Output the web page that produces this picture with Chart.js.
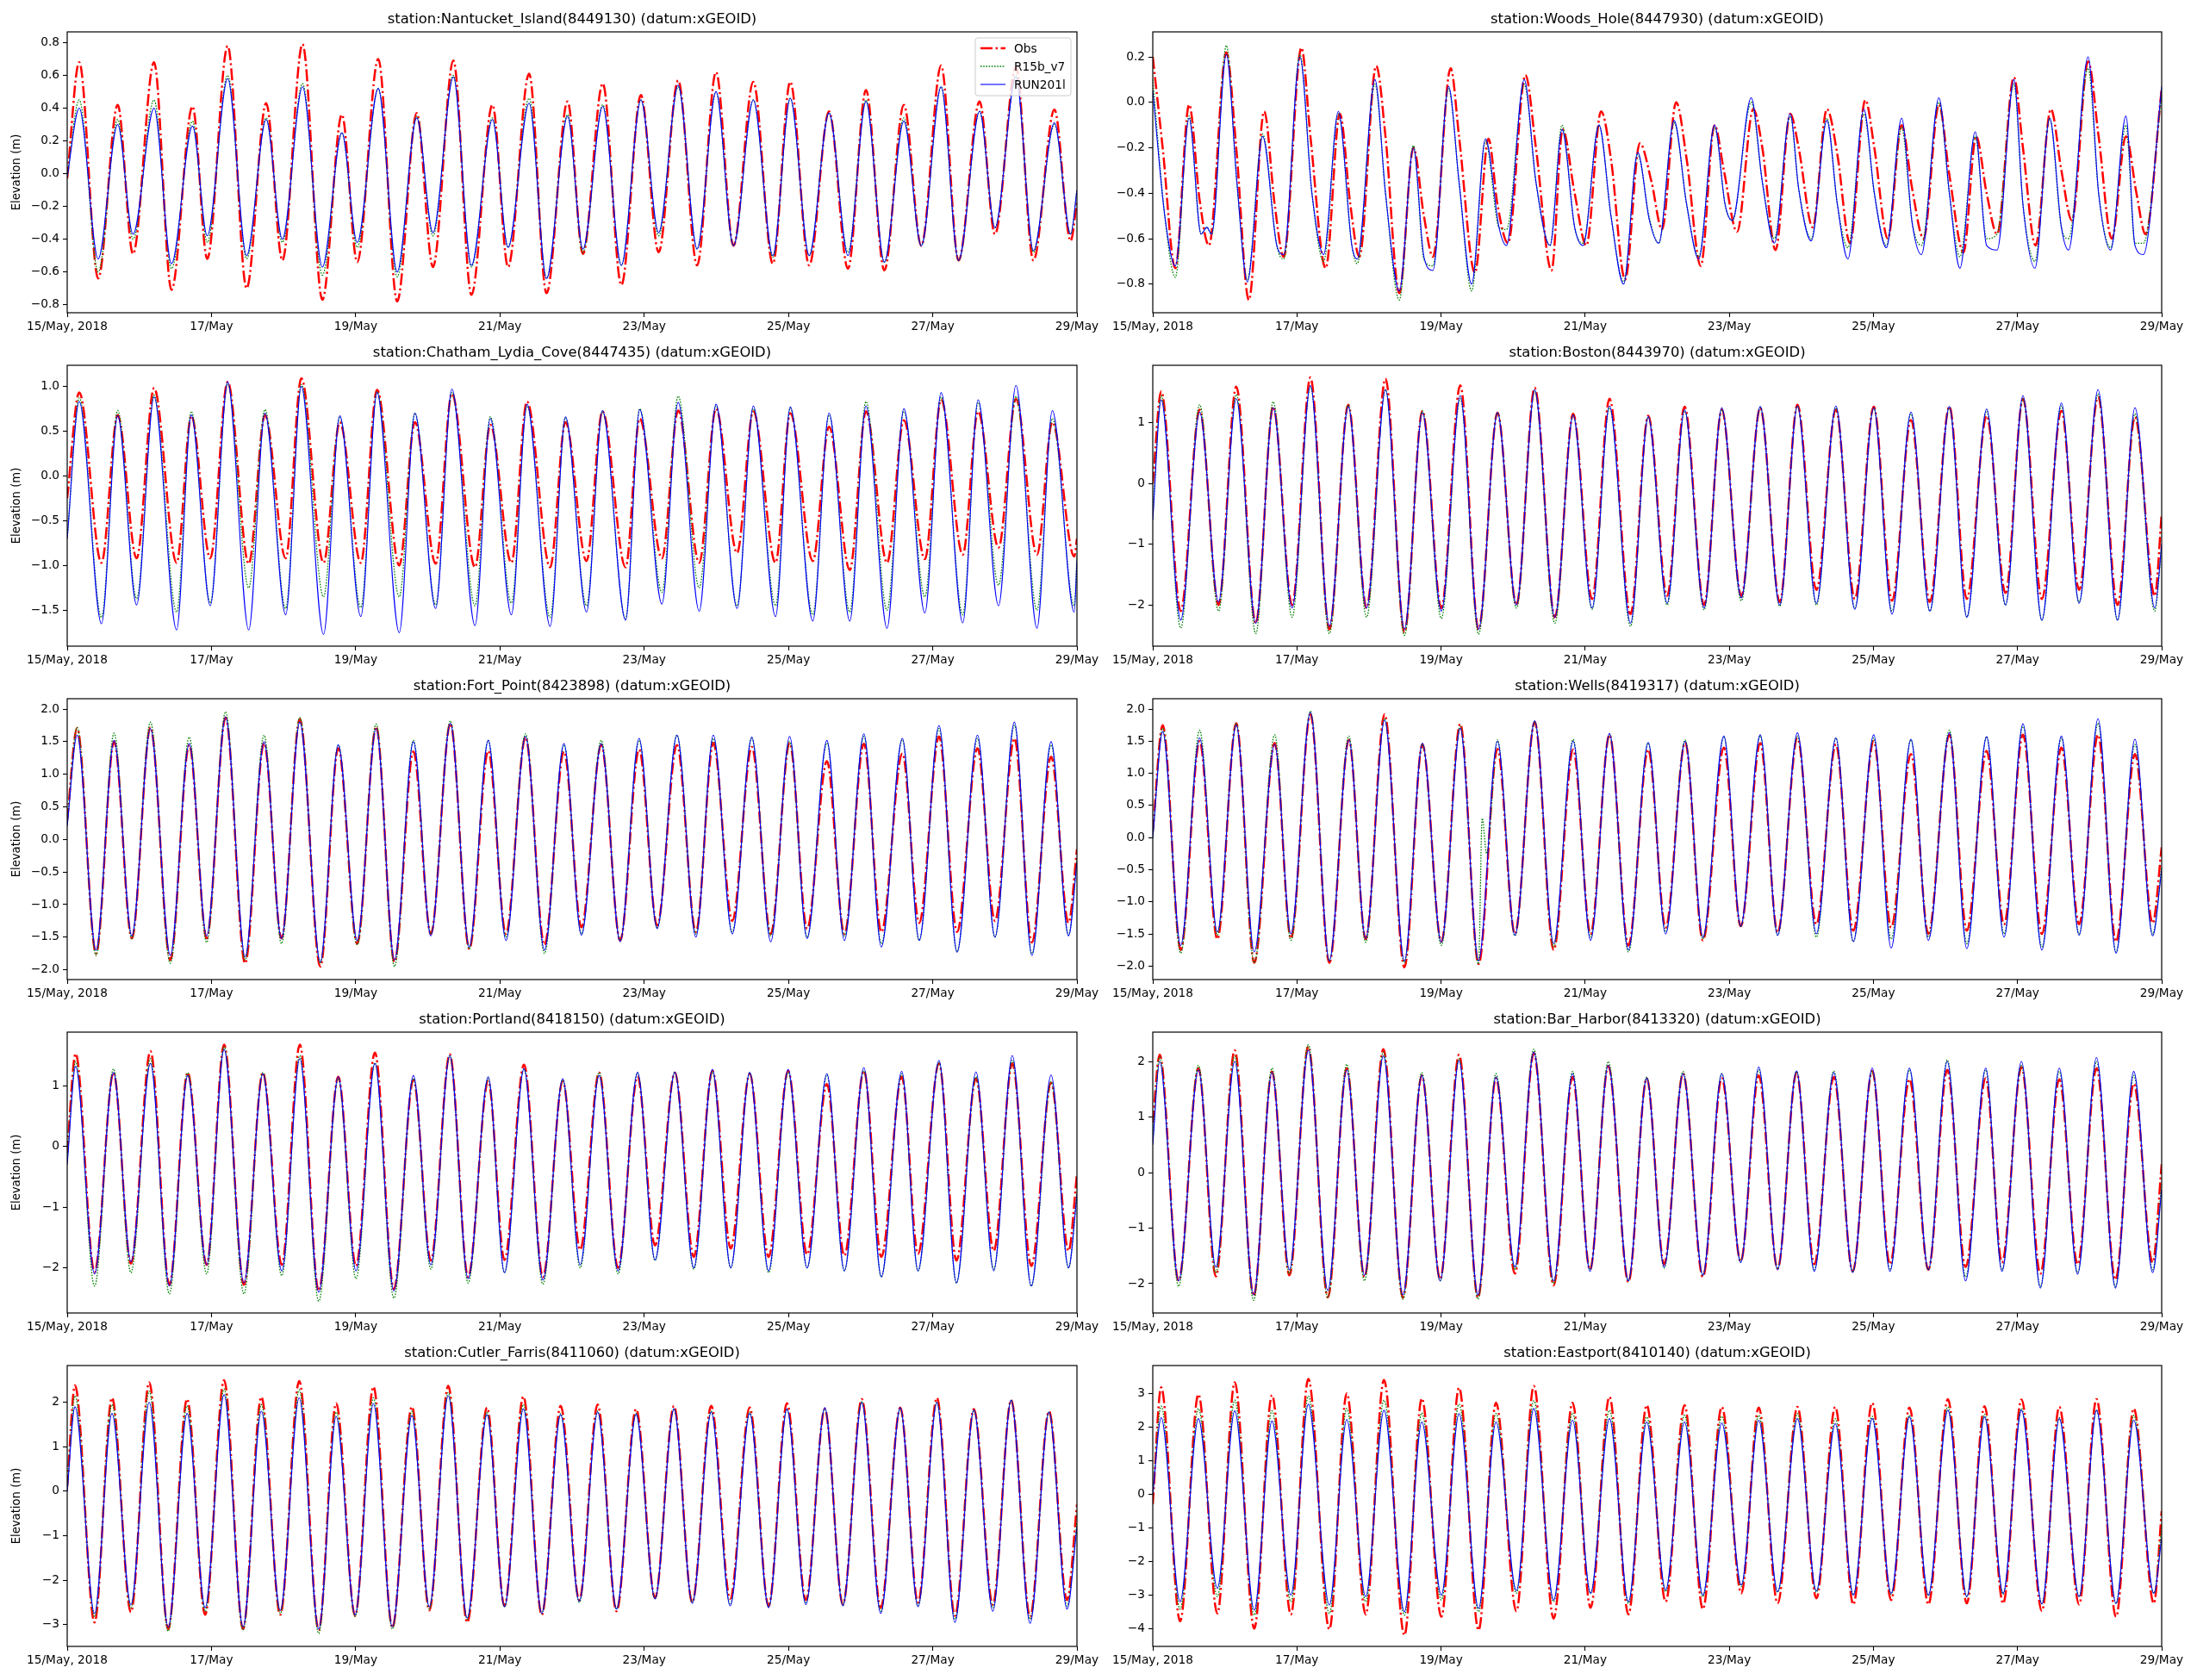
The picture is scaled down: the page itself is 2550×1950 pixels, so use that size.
<!DOCTYPE html>
<html><head><meta charset="utf-8">
<script src="https://cdn.jsdelivr.net/npm/chart.js@4.4.1/dist/chart.umd.min.js"></script>
<style>
html,body{margin:0;padding:0;background:#fff;}
body{width:2550px;height:1950px;position:relative;overflow:hidden;}
canvas{position:absolute;}
</style></head><body>
<script>
// ---------- shared axis data ----------
const edgeT = [0, 336];
const dayLabels = ["15/May, 2018","17/May","19/May","21/May","23/May","25/May","27/May","29/May"];
const seriesNames = ["Obs","R15b_v7","RUN201l"];

// ---------- Nantucket_Island ----------
const nanHiT = [4.0,16.8,28.9,41.7,53.4,66.2,78.3,91.4,103.5,116.3,128.5,141.5,153.7,166.5,178.2,190.9,203.3,215.9,228.3,240.6,253.5,265.8,278.4,290.8,303.6,315.7,328.5];
const nanLoT = [10.3,21.9,34.7,46.6,59.7,71.6,84.9,96.5,109.8,121.7,134.5,146.7,159.5,171.6,184.4,196.8,209.6,221.7,234.8,246.9,259.8,271.9,284.2,296.6,308.7,321.5,333.9];
const nanObsHi = [0.68,0.42,0.68,0.41,0.78,0.43,0.79,0.36,0.70,0.37,0.69,0.42,0.61,0.44,0.55,0.48,0.57,0.62,0.56,0.56,0.38,0.51,0.42,0.66,0.44,0.65,0.39];
const nanObsLo = [-0.64,-0.49,-0.71,-0.52,-0.70,-0.53,-0.77,-0.54,-0.78,-0.57,-0.74,-0.57,-0.73,-0.49,-0.68,-0.48,-0.56,-0.44,-0.55,-0.56,-0.58,-0.59,-0.44,-0.53,-0.37,-0.53,-0.41];
const nanObsEdge = [-0.03,-0.17];
const nanR15Hi = [0.45,0.33,0.45,0.32,0.60,0.34,0.55,0.25,0.52,0.35,0.60,0.34,0.46,0.36,0.42,0.45,0.53,0.50,0.45,0.46,0.37,0.45,0.34,0.53,0.38,0.60,0.30];
const nanR15Lo = [-0.60,-0.40,-0.58,-0.42,-0.52,-0.42,-0.62,-0.45,-0.63,-0.38,-0.57,-0.45,-0.64,-0.48,-0.56,-0.38,-0.46,-0.44,-0.51,-0.50,-0.48,-0.54,-0.44,-0.53,-0.33,-0.48,-0.37];
const nanR15Edge = [-0.02,-0.10];
const nanRunHi = [0.40,0.30,0.40,0.29,0.58,0.33,0.53,0.25,0.52,0.34,0.59,0.33,0.43,0.35,0.41,0.45,0.54,0.50,0.45,0.46,0.37,0.44,0.32,0.53,0.38,0.59,0.31];
const nanRunLo = [-0.52,-0.37,-0.55,-0.38,-0.50,-0.40,-0.57,-0.42,-0.60,-0.36,-0.56,-0.45,-0.64,-0.46,-0.56,-0.36,-0.46,-0.44,-0.50,-0.50,-0.50,-0.54,-0.44,-0.53,-0.33,-0.47,-0.37];
const nanRunEdge = [-0.02,-0.10];

// ---------- Woods_Hole ----------
const whObsT = [0,3.3,7.5,12.1,15.6,18.7,24.5,27.8,32.0,37.1,
 40.6,43.6,49.5,52.5,57.6,62.3,65.8,68.8,74.4,77.5,
 82.1,86.8,90.3,93.3,99.2,102.0,107.3,111.8,114.8,118.3,
 124.1,127.6,132.8,136.5,140.5,144.4,149.3,152.6,157.3,162.2,
 166.1,169.6,174.3,177.8,182.5,187.1,190.2,194.6,200.0,203.0,
 207.4,212.3,215.1,219.8,224.5,228.0,232.2,237.3,240.3,244.8,
 249.4,252.9,256.7,261.8,265.3,270.0,274.2,277.7,281.2,286.8,
 289.8,294.0,299.1,302.6,306.1,311.5,315.0,319.4,324.1,327.6,
 330.6,336.0];
const whObs = [0.20,-0.20,-0.73,-0.01,-0.43,-0.63,0.22,-0.20,-0.87,-0.04,
 -0.45,-0.68,0.24,-0.15,-0.73,-0.05,-0.45,-0.68,0.16,-0.15,
 -0.84,-0.20,-0.50,-0.68,0.15,-0.15,-0.75,-0.16,-0.45,-0.62,
 0.12,-0.20,-0.74,-0.12,-0.40,-0.63,-0.04,-0.25,-0.78,-0.18,
 -0.35,-0.56,0.00,-0.25,-0.72,-0.10,-0.30,-0.57,-0.03,-0.20,
 -0.65,-0.05,-0.20,-0.55,-0.03,-0.23,-0.62,0.01,-0.20,-0.60,
 -0.10,-0.38,-0.60,-0.01,-0.32,-0.66,-0.15,-0.40,-0.58,0.11,
 -0.20,-0.63,-0.03,-0.30,-0.52,0.18,-0.15,-0.60,-0.15,-0.40,
 -0.58,0.06];
const whModT = [0,4.0,7.5,12.1,16.1,18.0,19.6,24.5,28.0,31.5,
 36.6,41.3,43.6,49.0,53.0,56.9,61.8,66.3,68.1,74.0,
 77.5,82.1,86.8,90.3,93.3,98.5,102.0,106.2,110.8,115.3,
 117.8,123.7,127.6,132.3,136.3,140.5,143.3,148.6,152.6,156.8,
 161.5,165.4,168.5,173.6,177.8,181.8,187.1,190.6,193.0,199.3,
 203.0,207.0,212.3,215.1,219.3,224.5,228.0,231.5,236.8,240.3,
 244.3,249.4,252.9,256.0,261.8,265.3,268.8,273.9,277.7,281.2,
 286.8,289.8,293.8,298.7,302.6,305.0,311.5,315.0,319.0,324.1,
 327.1,329.9,336.0];
const whR15 = [0.10,-0.50,-0.77,-0.06,-0.58,-0.55,-0.58,0.25,-0.35,-0.78,
 -0.14,-0.63,-0.69,0.21,-0.40,-0.70,-0.05,-0.63,-0.71,0.08,
 -0.40,-0.87,-0.19,-0.69,-0.72,0.06,-0.35,-0.83,-0.17,-0.55,
 -0.56,0.08,-0.35,-0.63,-0.10,-0.55,-0.62,-0.10,-0.50,-0.79,
 -0.23,-0.51,-0.62,-0.09,-0.45,-0.68,-0.11,-0.45,-0.52,0.00,
 -0.35,-0.60,-0.06,-0.38,-0.60,-0.07,-0.45,-0.64,-0.05,-0.40,
 -0.63,-0.11,-0.53,-0.63,0.00,-0.40,-0.68,-0.15,-0.60,-0.58,
 0.08,-0.45,-0.70,-0.07,-0.55,-0.60,0.15,-0.40,-0.64,-0.10,
 -0.62,-0.62,0.03];
const whRun = [0.05,-0.50,-0.72,-0.07,-0.58,-0.55,-0.58,0.21,-0.35,-0.79,
 -0.15,-0.63,-0.67,0.20,-0.40,-0.67,-0.04,-0.63,-0.69,0.10,
 -0.40,-0.83,-0.20,-0.68,-0.74,0.07,-0.35,-0.80,-0.16,-0.55,
 -0.63,0.10,-0.35,-0.63,-0.12,-0.55,-0.63,-0.10,-0.50,-0.80,
 -0.22,-0.52,-0.62,-0.08,-0.45,-0.69,-0.10,-0.45,-0.52,0.02,
 -0.35,-0.62,-0.05,-0.38,-0.61,-0.08,-0.45,-0.69,-0.03,-0.40,
 -0.64,-0.07,-0.53,-0.67,0.02,-0.40,-0.73,-0.13,-0.63,-0.65,
 0.10,-0.45,-0.73,-0.07,-0.55,-0.65,0.20,-0.40,-0.65,-0.06,
 -0.63,-0.67,0.07];

// ---------- Chatham_Lydia_Cove ----------
const chaHiT = [4.0,16.8,28.9,41.3,53.4,65.8,77.9,90.7,103.1,115.7,128.0,140.8,153.0,165.8,178.1,190.5,203.3,215.9,228.3,240.6,253.5,265.8,278.4,290.8,303.1,315.7,327.8];
const chaLoT = [11.4,23.1,36.4,47.6,60.4,72.7,85.3,97.7,110.5,122.6,135.7,147.8,160.7,172.8,185.8,197.9,210.3,222.9,235.7,248.1,260.4,272.8,285.4,298.0,309.9,322.7,335.1];
const chaObsHi = [0.93,0.68,0.98,0.67,1.05,0.68,1.09,0.60,0.96,0.60,0.92,0.57,0.83,0.60,0.72,0.64,0.73,0.75,0.72,0.70,0.55,0.72,0.62,0.85,0.72,0.86,0.60];
const chaObsLo = [-0.97,-0.92,-0.97,-0.92,-0.98,-0.92,-0.97,-0.97,-1.00,-0.98,-1.02,-0.97,-1.02,-0.95,-1.02,-0.92,-0.97,-0.86,-0.97,-0.95,-1.05,-0.97,-0.93,-0.88,-0.80,-0.88,-0.90];
const chaObsEdge = [-0.25,-0.70];
const chaR15Hi = [0.87,0.73,0.90,0.72,1.03,0.74,1.02,0.66,0.94,0.70,0.93,0.66,0.78,0.65,0.72,0.75,0.89,0.78,0.75,0.76,0.68,0.83,0.72,0.88,0.82,0.89,0.64];
const chaR15Lo = [-1.58,-1.37,-1.52,-1.42,-1.25,-1.48,-1.35,-1.47,-1.35,-1.44,-1.45,-1.42,-1.58,-1.45,-1.60,-1.30,-1.25,-1.45,-1.45,-1.55,-1.52,-1.50,-1.35,-1.55,-1.22,-1.50,-1.45];
const chaR15Edge = [-0.70,-0.90];
const chaRunHi = [0.83,0.67,0.88,0.68,1.05,0.70,1.00,0.67,0.93,0.70,0.97,0.64,0.80,0.66,0.73,0.74,0.82,0.80,0.78,0.77,0.70,0.78,0.75,0.93,0.85,1.01,0.73];
const chaRunLo = [-1.65,-1.44,-1.72,-1.45,-1.72,-1.55,-1.77,-1.57,-1.75,-1.48,-1.67,-1.55,-1.68,-1.52,-1.61,-1.43,-1.51,-1.48,-1.57,-1.62,-1.62,-1.70,-1.53,-1.64,-1.45,-1.70,-1.52];
const chaRunEdge = [-0.70,-0.95];

// ---------- Boston ----------
const bosHiT = [2.8,15.6,27.8,40.1,52.5,65.1,77.5,89.8,102.4,114.8,127.2,140.0,152.1,165.0,177.1,189.5,202.3,214.7,227.5,240.1,252.5,265.3,277.7,289.8,302.6,314.8,327.1];
const bosLoT = [9.3,21.9,34.3,46.4,58.8,71.2,83.8,96.1,108.5,121.1,133.9,146.3,159.1,171.3,183.6,196.0,208.8,221.0,233.8,246.2,258.8,271.1,284.0,296.1,308.5,321.3,333.7];
const bosObsHi = [1.52,1.22,1.60,1.27,1.75,1.30,1.73,1.20,1.62,1.17,1.58,1.15,1.40,1.12,1.27,1.22,1.25,1.30,1.22,1.27,1.05,1.27,1.12,1.40,1.20,1.43,1.10];
const bosObsLo = [-2.10,-2.00,-2.30,-2.00,-2.40,-2.05,-2.45,-2.05,-2.40,-2.00,-2.20,-1.90,-2.15,-1.85,-2.00,-1.85,-1.95,-1.75,-1.90,-1.93,-1.95,-1.90,-1.80,-1.90,-1.75,-2.00,-1.85];
const bosObsEdge = [0.0,-0.50];
const bosR15Hi = [1.45,1.30,1.47,1.35,1.60,1.30,1.55,1.20,1.40,1.17,1.52,1.13,1.25,1.10,1.20,1.22,1.25,1.28,1.25,1.25,1.15,1.25,1.20,1.40,1.28,1.48,1.15];
const bosR15Lo = [-2.38,-2.10,-2.47,-2.20,-2.47,-2.20,-2.50,-2.22,-2.48,-2.05,-2.30,-2.07,-2.35,-2.00,-2.08,-1.93,-2.02,-2.00,-2.05,-2.10,-2.10,-2.20,-2.00,-2.25,-1.95,-2.25,-2.10];
const bosR15Edge = [-0.50,-1.00];
const bosRunHi = [1.38,1.18,1.40,1.25,1.62,1.27,1.55,1.17,1.45,1.17,1.55,1.13,1.28,1.10,1.22,1.25,1.27,1.28,1.28,1.25,1.18,1.27,1.23,1.45,1.33,1.55,1.25];
const bosRunLo = [-2.25,-1.95,-2.30,-2.05,-2.35,-2.05,-2.40,-2.10,-2.40,-2.00,-2.20,-2.05,-2.30,-1.97,-2.05,-1.88,-2.00,-1.97,-2.07,-2.15,-2.10,-2.20,-2.00,-2.25,-1.97,-2.25,-2.05];
const bosRunEdge = [-0.60,-1.00];

// ---------- Fort_Point ----------
const fpHiT = [3.3,15.6,27.7,40.6,52.7,65.5,77.4,90.2,102.8,115.2,127.5,140.1,152.5,165.3,177.7,190.3,202.9,215.0,227.8,240.4,252.8,265.1,277.9,290.1,302.9,315.2,327.4];
const fpLoT = [9.6,21.5,34.3,46.4,59.2,71.3,84.2,96.5,108.9,121.0,133.8,146.0,158.8,171.1,184.0,196.3,209.2,221.3,234.1,246.2,258.6,270.9,283.5,296.1,308.7,321.0,333.2];
const fpObsHi = [1.71,1.50,1.72,1.45,1.87,1.48,1.85,1.40,1.73,1.35,1.78,1.36,1.57,1.35,1.45,1.38,1.45,1.48,1.42,1.48,1.20,1.47,1.32,1.58,1.40,1.55,1.27];
const fpObsLo = [-1.75,-1.52,-1.85,-1.52,-1.90,-1.52,-1.95,-1.60,-1.88,-1.45,-1.68,-1.45,-1.62,-1.35,-1.55,-1.32,-1.42,-1.25,-1.45,-1.37,-1.45,-1.42,-1.28,-1.42,-1.25,-1.58,-1.28];
const fpObsEdge = [0.30,-0.15];
const fpR15Hi = [1.72,1.63,1.80,1.57,1.96,1.60,1.87,1.45,1.77,1.52,1.82,1.52,1.62,1.45,1.52,1.52,1.60,1.55,1.55,1.50,1.48,1.58,1.53,1.70,1.55,1.75,1.45];
const fpR15Lo = [-1.78,-1.52,-1.90,-1.58,-1.85,-1.60,-1.90,-1.62,-1.95,-1.45,-1.68,-1.50,-1.75,-1.45,-1.55,-1.35,-1.45,-1.42,-1.48,-1.50,-1.48,-1.60,-1.55,-1.72,-1.50,-1.75,-1.47];
const fpR15Edge = [0.25,-0.30];
const fpRunHi = [1.60,1.52,1.70,1.47,1.88,1.50,1.80,1.45,1.70,1.50,1.78,1.52,1.58,1.47,1.47,1.55,1.60,1.60,1.57,1.58,1.52,1.62,1.55,1.75,1.60,1.80,1.50];
const fpRunLo = [-1.70,-1.48,-1.78,-1.48,-1.80,-1.52,-1.88,-1.55,-1.85,-1.48,-1.65,-1.55,-1.70,-1.47,-1.57,-1.37,-1.50,-1.45,-1.57,-1.52,-1.55,-1.65,-1.55,-1.73,-1.50,-1.78,-1.48];
const fpRunEdge = [0.20,-0.35];

// ---------- Wells ----------
const weHiT = [3.3,15.6,27.8,40.6,52.5,65.3,77.2,89.8,102.4,114.8,127.2,140.0,152.1,165.0,177.3,190.2,202.3,214.7,227.5,240.1,252.5,265.3,277.7,289.8,302.6,314.8,327.1];
const weLoT = [9.3,21.5,33.8,46.0,58.8,70.9,83.8,96.1,108.5,120.6,133.5,145.8,158.4,170.8,183.2,195.8,208.1,221.0,233.3,245.9,258.3,271.1,283.5,296.1,308.5,320.8,333.0];
const weObsHi = [1.75,1.50,1.78,1.47,1.92,1.52,1.92,1.45,1.77,1.38,1.80,1.37,1.60,1.37,1.48,1.40,1.47,1.55,1.45,1.50,1.30,1.60,1.35,1.60,1.40,1.60,1.30];
const weObsLo = [-1.75,-1.58,-1.95,-1.57,-1.95,-1.58,-2.02,-1.62,-1.97,-1.50,-1.75,-1.50,-1.68,-1.40,-1.60,-1.38,-1.48,-1.35,-1.45,-1.40,-1.50,-1.45,-1.35,-1.50,-1.35,-1.62,-1.33];
const weObsEdge = [0.10,-0.15];
const weR15Hi = [1.70,1.67,1.78,1.60,1.97,1.58,1.85,1.45,1.73,1.52,1.80,1.53,1.60,1.47,1.52,1.57,1.58,1.58,1.55,1.55,1.52,1.67,1.57,1.73,1.55,1.78,1.45];
const weR15Lo = [-1.80,-1.52,-1.95,-1.60,-1.92,-1.63,-1.95,-1.68,-1.97,-1.53,-1.70,-1.55,-1.78,-1.47,-1.58,-1.38,-1.52,-1.55,-1.62,-1.58,-1.55,-1.65,-1.50,-1.70,-1.50,-1.78,-1.50];
const weR15Edge = [0.0,-0.45];
const weR15SpikeT = [109.7,111.2];
const weR15Spike = [0.30,-0.25];
const weRunHi = [1.65,1.55,1.75,1.45,1.95,1.52,1.83,1.47,1.70,1.50,1.82,1.50,1.62,1.48,1.50,1.58,1.60,1.63,1.55,1.60,1.53,1.63,1.57,1.77,1.58,1.85,1.53];
const weRunLo = [-1.68,-1.47,-1.78,-1.50,-1.92,-1.57,-1.92,-1.63,-1.92,-1.52,-1.65,-1.60,-1.75,-1.50,-1.55,-1.38,-1.52,-1.50,-1.62,-1.72,-1.60,-1.73,-1.55,-1.75,-1.52,-1.80,-1.53];
const weRunEdge = [0.0,-0.50];

// ---------- Portland ----------
const poHiT = [2.8,15.4,27.7,40.1,52.2,65.1,77.4,90.2,102.4,115.2,127.3,140.1,152.0,164.9,177.0,189.8,202.2,214.7,227.1,239.9,252.8,265.1,277.7,290.1,302.4,314.5,327.4];
const poLoT = [9.1,21.2,34.0,46.4,58.8,71.4,83.7,96.1,108.7,121.0,133.4,145.5,158.3,170.7,183.3,195.6,208.5,220.8,233.4,246.2,258.6,270.9,283.1,295.9,308.3,320.8,333.2];
const poObsHi = [1.53,1.22,1.57,1.22,1.68,1.22,1.68,1.15,1.55,1.10,1.52,1.08,1.35,1.08,1.22,1.15,1.22,1.25,1.20,1.25,1.03,1.25,1.15,1.37,1.12,1.37,1.05];
const poObsLo = [-2.07,-1.93,-2.28,-1.95,-2.28,-1.95,-2.38,-1.97,-2.35,-1.88,-2.15,-1.87,-2.15,-1.70,-2.00,-1.63,-1.82,-1.68,-1.82,-1.78,-1.80,-1.82,-1.77,-1.88,-1.72,-1.97,-1.72];
const poObsEdge = [-0.10,-0.45];
const poR15Hi = [1.40,1.28,1.45,1.22,1.65,1.22,1.50,1.12,1.38,1.12,1.50,1.12,1.28,1.10,1.22,1.22,1.22,1.23,1.22,1.22,1.18,1.25,1.20,1.38,1.15,1.42,1.07];
const poR15Lo = [-2.30,-2.08,-2.43,-2.10,-2.43,-2.13,-2.55,-2.18,-2.50,-2.02,-2.25,-2.08,-2.27,-2.00,-2.10,-1.88,-2.02,-2.00,-2.08,-2.00,-2.05,-2.15,-2.05,-2.25,-2.02,-2.30,-2.00];
const poR15Edge = [-0.20,-0.75];
const poRunHi = [1.32,1.22,1.37,1.17,1.60,1.20,1.45,1.15,1.37,1.17,1.50,1.15,1.28,1.12,1.17,1.22,1.23,1.27,1.22,1.27,1.20,1.30,1.24,1.42,1.23,1.50,1.18];
const poRunLo = [-2.10,-1.90,-2.30,-1.95,-2.25,-2.05,-2.40,-2.05,-2.38,-1.95,-2.18,-2.08,-2.20,-1.95,-2.05,-1.87,-2.00,-2.00,-2.05,-2.00,-2.05,-2.15,-2.05,-2.25,-2.05,-2.30,-2.00];
const poRunEdge = [-0.30,-0.80];

// ---------- Bar_Harbor ----------
const bhHiT = [2.3,15.2,27.3,39.7,51.8,64.6,76.8,89.6,102.0,114.3,126.9,139.8,151.7,164.5,176.6,189.5,201.8,214.4,226.8,239.6,252.0,264.6,277.4,289.3,301.9,314.3,326.7];
const bhLoT = [8.6,21.0,33.6,45.5,58.3,70.5,83.3,95.7,108.3,120.6,133.5,145.6,158.4,170.3,183.2,195.8,208.1,220.3,233.1,245.5,258.3,270.7,282.8,295.6,308.0,320.6,333.0];
const bhObsHi = [2.12,1.88,2.20,1.82,2.27,1.88,2.22,1.75,2.12,1.70,2.15,1.72,1.92,1.70,1.78,1.70,1.75,1.80,1.72,1.83,1.68,1.85,1.70,1.90,1.68,1.88,1.60];
const bhObsLo = [-1.95,-1.87,-2.22,-1.85,-2.25,-1.88,-2.25,-1.92,-2.25,-1.82,-2.03,-1.75,-1.97,-1.65,-1.88,-1.60,-1.73,-1.65,-1.78,-1.65,-1.75,-1.70,-1.62,-1.82,-1.65,-1.93,-1.62];
const bhObsEdge = [0.90,0.15];
const bhR15Hi = [2.08,1.93,2.10,1.88,2.30,1.95,2.17,1.80,2.05,1.78,2.22,1.82,2.00,1.72,1.82,1.78,1.85,1.82,1.83,1.82,1.85,2.03,1.85,1.93,1.82,2.00,1.75];
const bhR15Lo = [-2.05,-1.80,-2.30,-1.82,-2.25,-1.95,-2.28,-1.95,-2.28,-1.75,-2.00,-1.75,-1.95,-1.72,-1.85,-1.60,-1.73,-1.75,-1.78,-1.75,-1.75,-1.88,-1.75,-2.05,-1.80,-2.05,-1.75];
const bhR15Edge = [0.60,-0.20];
const bhRunHi = [2.00,1.85,2.00,1.80,2.20,1.85,2.10,1.75,2.02,1.72,2.17,1.78,1.93,1.70,1.78,1.78,1.90,1.83,1.80,1.88,1.88,2.00,1.88,2.00,1.88,2.07,1.82];
const bhRunLo = [-1.95,-1.70,-2.20,-1.75,-2.12,-1.85,-2.20,-1.95,-2.20,-1.70,-1.95,-1.78,-1.95,-1.70,-1.85,-1.62,-1.75,-1.78,-1.80,-1.78,-1.75,-1.95,-1.78,-2.08,-1.83,-2.08,-1.80];
const bhRunEdge = [0.50,-0.30];

// ---------- Cutler_Farris ----------
const cuHiT = [2.6,14.9,27.3,39.9,52.2,64.6,77.2,89.5,101.9,114.7,126.8,139.7,151.8,164.2,176.5,189.3,201.9,214.3,227.1,239.5,252.1,264.4,277.2,289.4,301.7,314.1,326.7];
const cuLoT = [9.1,21.2,33.6,45.9,58.5,70.9,83.7,95.8,108.2,120.5,133.1,145.5,157.9,170.4,182.8,195.6,208.0,220.6,233.4,245.8,258.1,270.7,283.1,295.4,308.0,320.4,332.7];
const cuObsHi = [2.38,2.10,2.45,2.07,2.50,2.12,2.48,1.98,2.35,1.90,2.37,1.88,2.13,1.92,1.95,1.85,1.92,1.92,1.88,1.98,1.85,2.07,1.88,2.10,1.85,2.05,1.80];
const cuObsLo = [-2.95,-2.72,-3.10,-2.78,-3.10,-2.78,-3.12,-2.80,-3.07,-2.68,-2.95,-2.58,-2.78,-2.45,-2.70,-2.40,-2.50,-2.42,-2.58,-2.45,-2.55,-2.62,-2.50,-2.80,-2.55,-2.82,-2.45];
const cuObsEdge = [0.10,-0.30];
const cuR15Hi = [2.15,1.95,2.25,1.92,2.30,1.95,2.28,1.78,2.10,1.80,2.22,1.78,1.95,1.75,1.80,1.75,1.85,1.80,1.78,1.85,1.85,2.02,1.85,2.00,1.82,2.05,1.78];
const cuR15Lo = [-2.82,-2.62,-3.15,-2.70,-3.12,-2.75,-3.20,-2.82,-3.10,-2.65,-2.88,-2.60,-2.75,-2.50,-2.65,-2.42,-2.50,-2.55,-2.60,-2.52,-2.55,-2.70,-2.58,-2.88,-2.62,-2.88,-2.58];
const cuR15Edge = [0.0,-0.70];
const cuRunHi = [1.90,1.75,2.00,1.75,2.17,1.80,2.10,1.68,1.97,1.70,2.15,1.72,1.85,1.72,1.78,1.73,1.85,1.78,1.75,1.85,1.88,2.00,1.88,2.00,1.83,2.05,1.78];
const cuRunLo = [-2.75,-2.55,-3.05,-2.62,-3.05,-2.68,-3.10,-2.78,-3.05,-2.60,-2.85,-2.60,-2.75,-2.48,-2.65,-2.42,-2.52,-2.58,-2.62,-2.55,-2.58,-2.75,-2.60,-2.95,-2.70,-2.97,-2.65];
const cuRunEdge = [0.0,-0.80];

// ---------- Eastport ----------
const eaHiT = [2.8,15.2,27.3,39.7,51.8,64.6,77.0,89.6,102.0,114.3,126.9,139.8,152.1,164.5,177.1,189.5,201.8,214.7,227.3,239.6,252.0,264.8,277.0,289.3,301.9,314.3,326.7];
const eaLoT = [9.1,21.5,33.8,46.0,58.8,70.9,83.8,96.1,108.5,121.1,133.5,145.8,158.4,170.8,183.2,196.0,208.1,221.0,233.3,245.9,258.3,271.1,283.2,296.1,308.5,320.8,333.4];
const eaObsHi = [3.18,2.97,3.33,2.95,3.43,3.00,3.40,2.85,3.17,2.72,3.22,2.72,2.90,2.65,2.65,2.60,2.58,2.60,2.60,2.72,2.58,2.83,2.62,2.82,2.60,2.83,2.55];
const eaObsLo = [-3.78,-3.55,-4.00,-3.58,-4.02,-3.58,-4.20,-3.65,-4.05,-3.48,-3.70,-3.38,-3.58,-3.20,-3.42,-2.95,-3.25,-3.10,-3.28,-3.15,-3.28,-3.25,-3.25,-3.48,-3.28,-3.65,-3.25];
const eaObsEdge = [-0.30,-0.50];
const eaR15Hi = [2.62,2.55,2.80,2.48,2.92,2.55,2.80,2.42,2.68,2.40,2.78,2.42,2.50,2.30,2.35,2.32,2.35,2.40,2.25,2.32,2.35,2.60,2.38,2.55,2.28,2.50,2.35];
const eaR15Lo = [-3.42,-3.05,-3.60,-3.20,-3.55,-3.20,-3.60,-3.15,-3.50,-2.95,-3.20,-2.95,-3.25,-2.90,-3.05,-2.75,-2.92,-2.92,-3.00,-2.98,-3.02,-3.05,-2.98,-3.25,-3.05,-3.25,-2.95];
const eaR15Edge = [0.0,-1.00];
const eaRunHi = [2.28,2.25,2.48,2.18,2.68,2.22,2.50,2.15,2.40,2.15,2.55,2.20,2.25,2.15,2.15,2.12,2.20,2.25,2.10,2.25,2.30,2.50,2.30,2.50,2.25,2.50,2.20];
const eaRunLo = [-3.20,-2.80,-3.45,-3.00,-3.30,-3.05,-3.50,-3.00,-3.40,-2.87,-3.15,-2.95,-3.20,-2.85,-3.00,-2.70,-2.90,-2.88,-3.00,-2.95,-3.00,-3.05,-2.95,-3.27,-3.05,-3.25,-2.95];
const eaRunEdge = [0.0,-1.30];

// ---------- helpers building library datasets from the arrays ----------
function pairs(ts, vs) { return ts.map((t, i) => ({x: t, y: vs[i]})); }
function tide(hiT, loT, hi, lo, edge, extraT, extraV) {
  let pts = pairs(edgeT, edge).concat(pairs(hiT, hi), pairs(loT, lo));
  if (extraT) pts = pts.concat(pairs(extraT, extraV));
  return pts.sort((a, b) => a.x - b.x);
}

const stationCharts = [
  {title:'station:Nantucket_Island(8449130) (datum:xGEOID)', yMin:-0.849, yMax:0.865, step:0.2, dec:1, legend:true,
   obs:tide(nanHiT,nanLoT,nanObsHi,nanObsLo,nanObsEdge), r15:tide(nanHiT,nanLoT,nanR15Hi,nanR15Lo,nanR15Edge), run:tide(nanHiT,nanLoT,nanRunHi,nanRunLo,nanRunEdge)},
  {title:'station:Woods_Hole(8447930) (datum:xGEOID)', yMin:-0.926, yMax:0.31, step:0.2, dec:1,
   obs:pairs(whObsT,whObs), r15:pairs(whModT,whR15), run:pairs(whModT,whRun)},
  {title:'station:Chatham_Lydia_Cove(8447435) (datum:xGEOID)', yMin:-1.90, yMax:1.234, step:0.5, dec:1,
   obs:tide(chaHiT,chaLoT,chaObsHi,chaObsLo,chaObsEdge), r15:tide(chaHiT,chaLoT,chaR15Hi,chaR15Lo,chaR15Edge), run:tide(chaHiT,chaLoT,chaRunHi,chaRunLo,chaRunEdge)},
  {title:'station:Boston(8443970) (datum:xGEOID)', yMin:-2.677, yMax:1.95, step:1, dec:0,
   obs:tide(bosHiT,bosLoT,bosObsHi,bosObsLo,bosObsEdge), r15:tide(bosHiT,bosLoT,bosR15Hi,bosR15Lo,bosR15Edge), run:tide(bosHiT,bosLoT,bosRunHi,bosRunLo,bosRunEdge)},
  {title:'station:Fort_Point(8423898) (datum:xGEOID)', yMin:-2.15, yMax:2.159, step:0.5, dec:1,
   obs:tide(fpHiT,fpLoT,fpObsHi,fpObsLo,fpObsEdge), r15:tide(fpHiT,fpLoT,fpR15Hi,fpR15Lo,fpR15Edge), run:tide(fpHiT,fpLoT,fpRunHi,fpRunLo,fpRunEdge)},
  {title:'station:Wells(8419317) (datum:xGEOID)', yMin:-2.21, yMax:2.161, step:0.5, dec:1,
   obs:tide(weHiT,weLoT,weObsHi,weObsLo,weObsEdge), r15:tide(weHiT,weLoT,weR15Hi,weR15Lo,weR15Edge,weR15SpikeT,weR15Spike), run:tide(weHiT,weLoT,weRunHi,weRunLo,weRunEdge)},
  {title:'station:Portland(8418150) (datum:xGEOID)', yMin:-2.744, yMax:1.886, step:1, dec:0,
   obs:tide(poHiT,poLoT,poObsHi,poObsLo,poObsEdge), r15:tide(poHiT,poLoT,poR15Hi,poR15Lo,poR15Edge), run:tide(poHiT,poLoT,poRunHi,poRunLo,poRunEdge)},
  {title:'station:Bar_Harbor(8413320) (datum:xGEOID)', yMin:-2.528, yMax:2.528, step:1, dec:0,
   obs:tide(bhHiT,bhLoT,bhObsHi,bhObsLo,bhObsEdge), r15:tide(bhHiT,bhLoT,bhR15Hi,bhR15Lo,bhR15Edge), run:tide(bhHiT,bhLoT,bhRunHi,bhRunLo,bhRunEdge)},
  {title:'station:Cutler_Farris(8411060) (datum:xGEOID)', yMin:-3.49, yMax:2.827, step:1, dec:0,
   obs:tide(cuHiT,cuLoT,cuObsHi,cuObsLo,cuObsEdge), r15:tide(cuHiT,cuLoT,cuR15Hi,cuR15Lo,cuR15Edge), run:tide(cuHiT,cuLoT,cuRunHi,cuRunLo,cuRunEdge)},
  {title:'station:Eastport(8410140) (datum:xGEOID)', yMin:-4.53, yMax:3.83, step:1, dec:0,
   obs:tide(eaHiT,eaLoT,eaObsHi,eaObsLo,eaObsEdge), r15:tide(eaHiT,eaLoT,eaR15Hi,eaR15Lo,eaR15Edge), run:tide(eaHiT,eaLoT,eaRunHi,eaRunLo,eaRunEdge)}
];

// ---------- styling ----------
const FONT = '"DejaVu Sans", "Liberation Sans", sans-serif';
Chart.defaults.font.family = FONT;
Chart.defaults.color = '#000';
const OBS_DASH = [14, 3.6, 2.3, 3.6];
const DOT_DASH = [1.6, 1.6];

const framePlugin = {
  id: 'frame',
  afterDraw(chart) {
    const {ctx, chartArea: a} = chart;
    ctx.save();
    ctx.strokeStyle = '#000';
    ctx.lineWidth = 1.2;
    ctx.strokeRect(a.left, a.top, a.right - a.left, a.bottom - a.top);
    ctx.restore();
  }
};
const titlePlugin = {
  id: 'stationTitle',
  afterDraw(chart, args, opts) {
    const {ctx, chartArea: a} = chart;
    ctx.save();
    ctx.fillStyle = '#000';
    ctx.font = '16.4px ' + FONT;
    ctx.textAlign = 'center';
    ctx.textBaseline = 'middle';
    ctx.fillText(opts.text, (a.left + a.right) / 2, a.top - 14);
    ctx.restore();
  }
};
const boxLegendPlugin = {
  id: 'boxLegend',
  afterDraw(chart, args, opts) {
    if (!opts.show) return;
    const {ctx, chartArea: a} = chart;
    const w = 111, h = 67, x = a.right - 7 - w, y = a.top + 7, r = 3;
    ctx.save();
    ctx.beginPath();
    ctx.moveTo(x + r, y); ctx.lineTo(x + w - r, y); ctx.arcTo(x + w, y, x + w, y + r, r);
    ctx.lineTo(x + w, y + h - r); ctx.arcTo(x + w, y + h, x + w - r, y + h, r);
    ctx.lineTo(x + r, y + h); ctx.arcTo(x, y + h, x, y + h - r, r);
    ctx.lineTo(x, y + r); ctx.arcTo(x, y, x + r, y, r); ctx.closePath();
    ctx.fillStyle = 'rgba(255,255,255,0.8)';
    ctx.fill();
    ctx.strokeStyle = '#cccccc';
    ctx.lineWidth = 1;
    ctx.stroke();
    chart.data.datasets.forEach((ds, i) => {
      const yy = y + 12 + i * 21;
      ctx.beginPath();
      ctx.setLineDash(ds.borderDash || []);
      ctx.strokeStyle = ds.borderColor;
      ctx.lineWidth = ds.borderWidth;
      ctx.moveTo(x + 6, yy); ctx.lineTo(x + 35, yy);
      ctx.stroke();
      ctx.setLineDash([]);
      ctx.fillStyle = '#000';
      ctx.font = '13.7px ' + FONT;
      ctx.textAlign = 'left';
      ctx.textBaseline = 'middle';
      ctx.fillText(ds.label, x + 45, yy + 1);
    });
    ctx.restore();
  }
};

function fmtTick(v, dec) {
  if (Math.abs(v) < 1e-9) v = 0;
  return v.toFixed(dec).replace('-', '\u2212');
}

stationCharts.forEach((st, idx) => {
  const col = idx % 2, row = Math.floor(idx / 2);
  const cv = document.createElement('canvas');
  cv.width = 1275; cv.height = 387;
  cv.style.width = '1275px'; cv.style.height = '387px';
  cv.style.left = (col * 1275) + 'px';
  cv.style.top = (row * 387) + 'px';
  document.body.appendChild(cv);
  const leftW = col === 0 ? 78 : 63;
  const rightPad = col === 0 ? 25 : 41;
  new Chart(cv, {
    type: 'line',
    data: {
      datasets: [
        {label: seriesNames[0], data: st.obs, borderColor: '#ff0000', borderWidth: 2.5, borderDash: OBS_DASH, order: 3},
        {label: seriesNames[1], data: st.r15, borderColor: '#008000', borderWidth: 1.3, borderDash: DOT_DASH, order: 2},
        {label: seriesNames[2], data: st.run, borderColor: '#0000ff', borderWidth: 1.1, order: 1}
      ]
    },
    options: {
      responsive: false,
      animation: false,
      devicePixelRatio: 1,
      events: [],
      elements: {
        point: {radius: 0, hoverRadius: 0},
        line: {cubicInterpolationMode: 'monotone', fill: false, borderCapStyle: 'butt', borderJoinStyle: 'round'}
      },
      layout: {padding: {top: 37, left: 0, right: rightPad, bottom: 0}},
      plugins: {
        legend: {display: false},
        tooltip: {enabled: false},
        title: {display: false},
        stationTitle: {text: st.title},
        boxLegend: {show: !!st.legend}
      },
      scales: {
        x: {
          type: 'linear', min: edgeT[0], max: edgeT[1],
          ticks: {stepSize: 48, autoSkip: false, maxRotation: 0, minRotation: 0, padding: 3,
                  font: {size: 13.7}, color: '#000',
                  callback: v => dayLabels[Math.round(v / 48)]},
          grid: {drawOnChartArea: false, drawTicks: true, tickLength: 5, tickWidth: 1.1, tickColor: '#000'},
          border: {display: false},
          afterFit: s => { s.height = 24; s.paddingLeft = 0; s.paddingRight = 0; }
        },
        y: {
          type: 'linear', min: st.yMin, max: st.yMax,
          ticks: {stepSize: st.step, includeBounds: false, autoSkip: false, padding: 4,
                  font: {size: 13.7}, color: '#000',
                  callback: v => fmtTick(v, st.dec)},
          grid: {drawOnChartArea: false, drawTicks: true, tickLength: 5, tickWidth: 1.1, tickColor: '#000'},
          border: {display: false},
          title: {display: col === 0, text: 'Elevation (m)', font: {size: 13.2}, color: '#000', padding: {top: 12, bottom: 0}},
          afterFit: s => { s.width = leftW; s.paddingTop = 0; s.paddingBottom = 0; }
        }
      }
    },
    plugins: [framePlugin, titlePlugin, boxLegendPlugin]
  });
});
</script>
</body></html>
